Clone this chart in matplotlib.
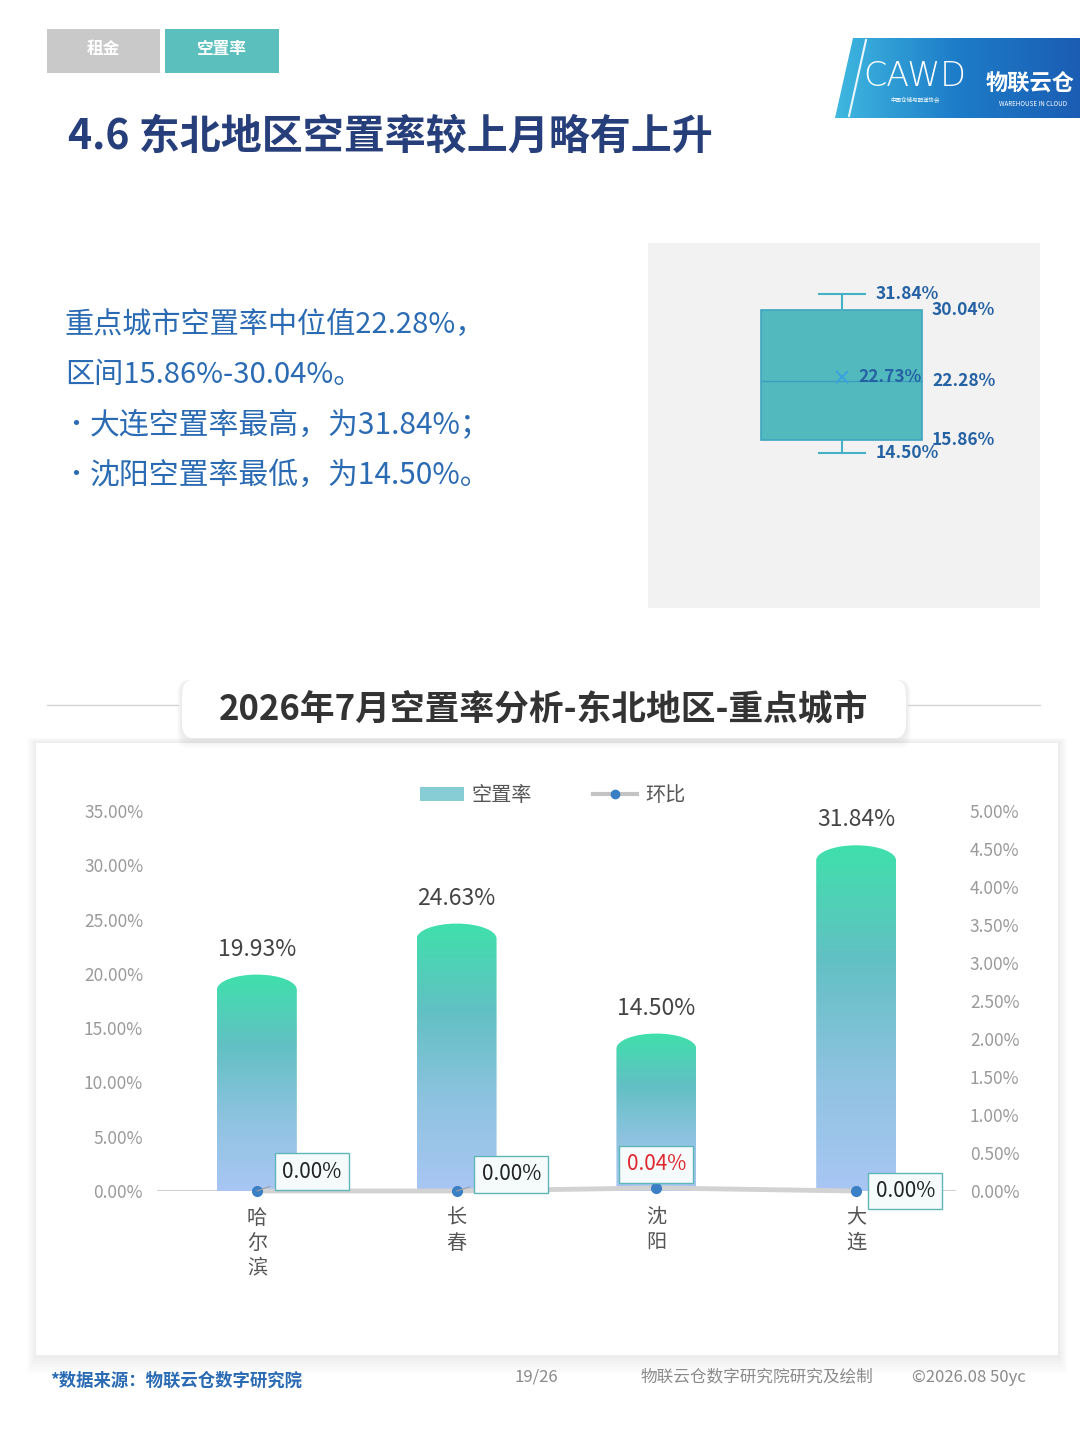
import numpy as np
import matplotlib.pyplot as plt
from matplotlib.patches import Rectangle, FancyBboxPatch, Polygon, PathPatch, Patch
from matplotlib.path import Path
from matplotlib.lines import Line2D
from matplotlib.colors import LinearSegmentedColormap

plt.rcParams['font.family'] = ['Noto Sans CJK SC', 'DejaVu Sans']

# ---- data ----
cities = ['哈尔滨', '长春', '沈阳', '大连']
vacancy = [19.93, 24.63, 14.50, 31.84]          # 空置率 (%)
mom = [0.00, 0.00, 0.04, 0.00]                  # 环比 (%)
left_ticks = [0, 5, 10, 15, 20, 25, 30, 35]
right_ticks = [0, 0.5, 1.0, 1.5, 2.0, 2.5, 3.0, 3.5, 4.0, 4.5, 5.0]
box_stats = {'whislo': 14.50, 'q1': 15.86, 'med': 22.28, 'mean': 22.73,
             'q3': 30.04, 'whishi': 31.84, 'fliers': []}
summary_lines = ['重点城市空置率中位值22.28%，',
                 '区间15.86%-30.04%。',
                 '大连空置率最高，为31.84%；',
                 '沈阳空置率最低，为14.50%。']

W, H = 1080, 1439


def fx(px):
    return px / W


def fy(py):
    return 1 - py / H


fig = plt.figure(figsize=(W / 100, H / 100), dpi=100)
fig.patch.set_facecolor('white')

# ---- header: tabs, logo, title ----
fig.patches.append(Rectangle((fx(47), fy(73)), fx(160) - fx(47), fy(29) - fy(73),
                             transform=fig.transFigure, fc='#c9c9c9', ec='none'))
fig.patches.append(Rectangle((fx(165), fy(73)), fx(279) - fx(165), fy(29) - fy(73),
                             transform=fig.transFigure, fc='#5bbfbd', ec='none'))
fig.text(fx(103), fy(49), '租金', color='white', fontsize=12, fontweight='bold', ha='center', va='center')
fig.text(fx(222), fy(49), '空置率', color='white', fontsize=12, fontweight='bold', ha='center', va='center')

logo = fig.add_axes([fx(835), fy(118), fx(1080) - fx(835), fy(38) - fy(118)])
logo.set_zorder(3)
logo.set_xlim(835, 1080)
logo.set_ylim(118, 38)
logo.axis('off')
lg = LinearSegmentedColormap.from_list('logo', ['#3fb8e0', '#1d7cc8', '#1b5db4'])
shape = Polygon([(853, 38), (1080, 38), (1080, 118), (835, 118)], closed=True, fc='none', ec='none')
logo.add_patch(shape)
im = logo.imshow(np.linspace(0, 1, 256).reshape(1, -1), cmap=lg, extent=[835, 1080, 118, 38], aspect='auto')
im.set_clip_path(shape)
logo.plot([866, 849], [40, 116], color='white', lw=1.5, alpha=0.9)
logo.text(915, 76, 'CAWD', color='white', fontsize=24, ha='center', va='center',
          family=['DejaVu Sans'], fontweight='light')
logo.text(915, 99, '中国仓储与配送协会', color='white', fontsize=4, ha='center', va='center')
logo.text(1030, 84, '物联云仓', color='white', fontsize=16, fontweight='bold', ha='center', va='center')
logo.text(1033, 104, 'WAREHOUSE IN CLOUD', color='white', fontsize=4.5, ha='center', va='center')

fig.text(fx(68), fy(137), '4.6 东北地区空置率较上月略有上升', color='#263f7b',
         fontsize=29.5, fontweight='bold', va='center')

# ---- summary text ----
text_blue = '#2a6bb3'
fig.text(fx(65), fy(325), summary_lines[0], color=text_blue, fontsize=21, va='center')
fig.text(fx(65), fy(375), summary_lines[1], color=text_blue, fontsize=21, va='center')
for yy, line in zip([425, 475], summary_lines[2:]):
    fig.text(fx(63), fy(yy), '•', color=text_blue, fontsize=18, va='center')
    fig.text(fx(90), fy(yy), line, color=text_blue, fontsize=21.5, va='center')

# ---- box plot panel ----
fig.patches.append(Rectangle((fx(648), fy(608)), fx(1040) - fx(648), fy(243) - fy(608),
                             transform=fig.transFigure, fc='#f2f2f2', ec='none'))
bx = fig.add_axes([fx(648), fy(608), fx(1040) - fx(648), fy(243) - fy(608)])
bx.set_zorder(3)
bx.patch.set_visible(False)
for s in bx.spines.values():
    s.set_visible(False)
bx.bxp([box_stats], positions=[1], widths=1.0, patch_artist=True, showmeans=True,
       showfliers=False, capwidths=0.28,
       boxprops=dict(facecolor='#52b9bf', edgecolor='#3fa5c0', lw=1.2),
       whiskerprops=dict(color='#46b0c6', lw=1.5),
       capprops=dict(color='#46b0c6', lw=1.5),
       medianprops=dict(color='#3d9dbf', lw=1.0),
       meanprops=dict(marker='x', markeredgecolor='#3aa3dc', markersize=9, markeredgewidth=1.5))
bx.set_xticks([])
bx.set_yticks([])
bx.set_xlim(-0.205, 2.23)
bx.set_ylim(-2.46, 37.35)
lbl = dict(color='#2462a3', fontsize=12.5, fontweight='bold', va='center', ha='left')
bx.text(1.211, box_stats['whishi'], f"{box_stats['whishi']:.2f}%", **lbl)
bx.text(1.559, box_stats['q3'], f"{box_stats['q3']:.2f}%", **lbl)
bx.text(1.10, box_stats['mean'], f"{box_stats['mean']:.2f}%", **lbl)
bx.text(1.559, box_stats['med'], f"{box_stats['med']:.2f}%", **lbl)
bx.text(1.559, box_stats['q1'], f"{box_stats['q1']:.2f}%", **lbl)
bx.text(1.211, box_stats['whislo'], f"{box_stats['whislo']:.2f}%", **lbl)

# ---- chart card ----
for i in range(6):
    d = (6 - i) * 3
    fig.patches.append(FancyBboxPatch((fx(36 - d * 0.5), fy(1355 + d)), fx(1058) - fx(36) + fx(d),
                                      fy(743 - d * 0.3) - fy(1355 + d),
                                      boxstyle='square,pad=0', transform=fig.transFigure,
                                      fc='#000000', ec='none', alpha=0.012))
fig.patches.append(Rectangle((fx(36), fy(1355)), fx(1058) - fx(36), fy(743) - fy(1355),
                             transform=fig.transFigure, fc='white', ec='none'))

fig.lines.append(Line2D([fx(47), fx(178)], [fy(705), fy(705)], transform=fig.transFigure,
                        color='#d5d5d5', lw=1))
fig.lines.append(Line2D([fx(908), fx(1040)], [fy(705), fy(705)], transform=fig.transFigure,
                        color='#d5d5d5', lw=1))
for i in range(5):
    d = (5 - i) * 2
    fig.patches.append(FancyBboxPatch((fx(182 - d * 0.5), fy(738 + d)), fx(906) - fx(182) + fx(d),
                                      fy(680) - fy(738 + d),
                                      boxstyle='round,pad=0,rounding_size=0.01', transform=fig.transFigure,
                                      fc='#000000', ec='none', alpha=0.015))
fig.patches.append(FancyBboxPatch((fx(182), fy(738)), fx(906) - fx(182), fy(680) - fy(738),
                                  boxstyle='round,pad=0,rounding_size=0.01', transform=fig.transFigure,
                                  fc='white', ec='none'))
fig.text(fx(543), fy(709), '2026年7月空置率分析-东北地区-重点城市', color='#333333',
         fontsize=25, fontweight='bold', ha='center', va='center')

# ---- main chart ----
ax = fig.add_axes([fx(157), fy(1191), fx(956) - fx(157), fy(811) - fy(1191)])
ax.set_zorder(3)
ax.patch.set_visible(False)
for s in ax.spines.values():
    s.set_visible(False)

bar_cmap = LinearSegmentedColormap.from_list('bar', ['#a9c6f4', '#8ec3e0', '#62c0c4', '#3fe0ab'])
grad = np.linspace(0, 1, 256).reshape(-1, 1)
half = 0.2
cap = 1.4
k = 0.5523
for i, v in enumerate(vacancy):
    x0, x1 = i - half, i + half
    verts = [(x0, 0), (x0, v - cap), (x0, v - cap + k * cap), (i - k * half, v), (i, v),
             (i + k * half, v), (x1, v - cap + k * cap), (x1, v - cap), (x1, 0), (x0, 0)]
    codes = [Path.MOVETO, Path.LINETO, Path.CURVE4, Path.CURVE4, Path.CURVE4,
             Path.CURVE4, Path.CURVE4, Path.CURVE4, Path.LINETO, Path.CLOSEPOLY]
    bar = PathPatch(Path(verts, codes), fc='none', ec='none')
    ax.add_patch(bar)
    img = ax.imshow(grad, cmap=bar_cmap, origin='lower', extent=[x0, x1, 0, v],
                    aspect='auto', zorder=2)
    img.set_clip_path(bar)
    ax.annotate(f'{v:.2f}%', (i, v), xytext=(0, 10), textcoords='offset points',
                ha='center', va='bottom', fontsize=16.5, color='#444444')

ax.axhline(0, color='#d0d0d0', lw=1.5, zorder=1)
ax.set_xlim(-0.5, 3.5)
ax.set_ylim(0, 35)
ax.set_yticks(left_ticks)
ax.set_yticklabels([f'{t:.2f}%' for t in left_ticks])
ax.set_xticks(range(len(cities)))
ax.set_xticklabels(['\n'.join(c) for c in cities], linespacing=1.25)
ax.tick_params(axis='y', length=0, pad=10, labelsize=12.5, labelcolor='#9a9a9a')
ax.tick_params(axis='x', length=0, pad=12, labelsize=14.5, labelcolor='#555555')
for t in ax.get_xticklabels():
    t.set_va('top')

ax2 = ax.twinx()
ax2.set_zorder(4)
for s in ax2.spines.values():
    s.set_visible(False)
ax2.set_ylim(0, 5)
ax2.set_yticks(right_ticks)
ax2.set_yticklabels([f'{t:.2f}%' for t in right_ticks])
ax2.tick_params(axis='y', length=0, pad=10, labelsize=12.5, labelcolor='#9a9a9a')
ax2.plot(range(len(cities)), mom, color='#d2d2d2', lw=3.5, zorder=3, solid_capstyle='round',
         clip_on=False)
ax2.plot(range(len(cities)), mom, 'o', color='#3b7fc4', ms=7, zorder=4, clip_on=False)

box = dict(boxstyle='square,pad=0.35', fc='#f5fbfb', ec='#5fb6b6', lw=1)
offsets = [(18, 14, 'left'), (18, 12, 'left'), (0, 17, 'center'), (14, 0, 'left')]
for i, (val, (dx, dy, ha)) in enumerate(zip(mom, offsets)):
    col = '#e0262e' if val > 0 else '#222222'
    arrow = dict(arrowstyle='-', color='#a0a0a0', lw=0.8, shrinkA=3, shrinkB=0) if dy > 0 and dx > 0 else None
    ax2.annotate(f'{val:.2f}%', (i, val), xytext=(dx, dy), textcoords='offset points',
                 ha=ha, va='center', fontsize=15, color=col, bbox=box,
                 arrowprops=arrow, zorder=5)

handles = [Patch(facecolor='#86cdd6', edgecolor='none'),
           Line2D([], [], color='#c4c4c4', lw=3, marker='o', mfc='#3b7fc4', mec='#3b7fc4', ms=6)]
ax2.legend(handles, ['空置率', '环比'], loc='center', bbox_to_anchor=(0.495, 1.04), ncol=2,
           frameon=False, fontsize=14.5, labelcolor='#555555', handlelength=2.2,
           columnspacing=3.0, handletextpad=0.4)

# ---- footer ----
fig.text(fx(50), fy(1381), '*数据来源：物联云仓数字研究院', color='#2a6bb3', fontsize=12.5,
         va='center', fontweight='bold')
fig.text(fx(515), fy(1377), '19/26', color='#8a8a8a', fontsize=12, va='center')
fig.text(fx(641), fy(1377), '物联云仓数字研究院研究及绘制', color='#8a8a8a', fontsize=12, va='center')
fig.text(fx(912), fy(1377), '©2026.08 50yc', color='#8a8a8a', fontsize=12, va='center')

fig.savefig('out.png', dpi=100)
